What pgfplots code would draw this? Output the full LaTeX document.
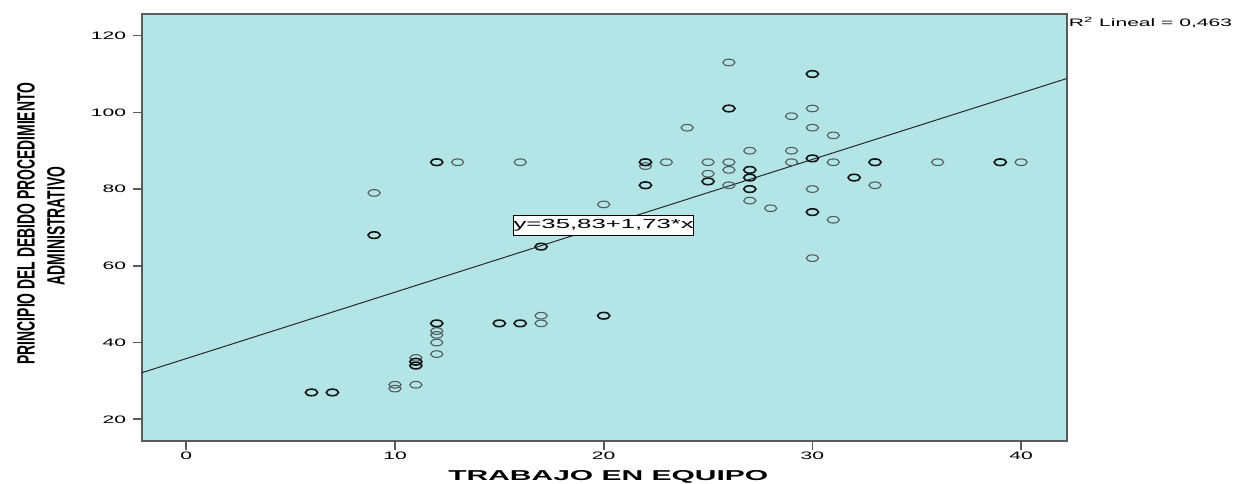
\documentclass[border=0pt]{standalone}
\usepackage{pgfplots}
\pgfplotsset{compat=1.18}
\usepackage{fontspec}
\setmainfont{Liberation Sans}
\newfontfamily\wfont[FakeStretch=1.95]{Liberation Sans}
\definecolor{bgc}{RGB}{180,229,230}
\definecolor{framec}{RGB}{90,90,90}
\definecolor{ptc}{RGB}{80,92,92}
\definecolor{ptb}{RGB}{20,22,22}
\begin{document}
\begin{tikzpicture}
\path[use as bounding box] (-70.85pt,-21.15pt) rectangle (547.15pt,220.35pt);
\begin{axis}[
  at={(0pt,0pt)}, anchor=south west,
  scale only axis, width=462.5pt, height=213.35pt,
  xmin=-2.137, xmax=42.185, ymin=14.42, ymax=125.63,
  xtick={0,10,20,30,40}, ytick={20,40,60,80,100,120},
  xtick pos=lower, ytick pos=left,
  axis background/.style={fill=bgc},
  axis line style={draw=framec, line width=0.9pt},
  tick align=outside, major tick length=4.5pt,
  tick style={draw=framec, line width=0.8pt},
  /pgf/number format/assume math mode=true,
  ticklabel style={font=\wfont\fontsize{5.4pt}{6pt}\selectfont, text=black},
  xticklabel style={yshift=2.5pt},
  yticklabel style={xshift=0.25pt},
]
% regression line
\addplot[no marks, draw={rgb,255:red,40;green,40;blue,40}, line width=0.5pt]
  coordinates {(-2.137,32.13) (42.185,108.81)};
% single points
\addplot[only marks, mark=o, mark size=1.65pt, mark options={draw=ptc, line width=0.55pt, xscale=1.85}]
  coordinates {
  (9,79) (13,87) (16,87) (20,76) (10,29) (10,28) (11,29) (11,36)
  (12,43) (12,42) (12,40) (12,37) (17,47) (17,45) (26,113) (30,101)
  (29,99) (24,96) (30,96) (31,94) (27,90) (29,90) (22,86) (23,87)
  (25,87) (26,87) (29,87) (31,87) (36,87) (40,87) (25,84) (26,85)
  (26,81) (30,80) (33,81) (27,77) (28,75) (31,72) (30,62)
  };
% repeated (darker) points
\addplot[only marks, mark=o, mark size=1.65pt, mark options={draw=ptb, line width=0.8pt, xscale=1.85}]
  coordinates {
  (12,87) (9,68) (17,65) (6,27) (7,27) (11,35) (11,34) (12,45)
  (15,45) (16,45) (20,47) (30,110) (26,101) (22,87) (30,88) (33,87)
  (39,87) (27,85) (25,82) (27,83) (22,81) (27,80) (32,83) (30,74)
  };
\node[draw=black, line width=0.4pt, fill=white, inner sep=0pt,
  minimum width=90pt, minimum height=10pt] at (axis cs:20,70.5)
  {\wfont\fontsize{6.6pt}{7pt}\selectfont y=35,83+1,73*x};
\end{axis}
% R^2 label
\node[anchor=base west, inner sep=0pt] at (463.4pt,207pt)
  {\wfont\fontsize{5.4pt}{6pt}\selectfont R\textsuperscript{2} Lineal = 0,463};
% x title
\node[inner sep=0pt] at (233.3pt,-18pt)
  {\resizebox{160pt}{5pt}{\bfseries TRABAJO EN EQUIPO}};
% y title
\node[rotate=90, inner sep=0pt] at (-57.85pt,108.6pt)
  {\scalebox{1}[1.8]{\fontsize{6.95pt}{7pt}\selectfont\bfseries PRINCIPIO DEL DEBIDO PROCEDIMIENTO}};
\node[rotate=90, inner sep=0pt] at (-42.85pt,107.4pt)
  {\scalebox{1}[1.8]{\fontsize{6.95pt}{7pt}\selectfont\bfseries ADMINISTRATIVO}};
\end{tikzpicture}
\end{document}
